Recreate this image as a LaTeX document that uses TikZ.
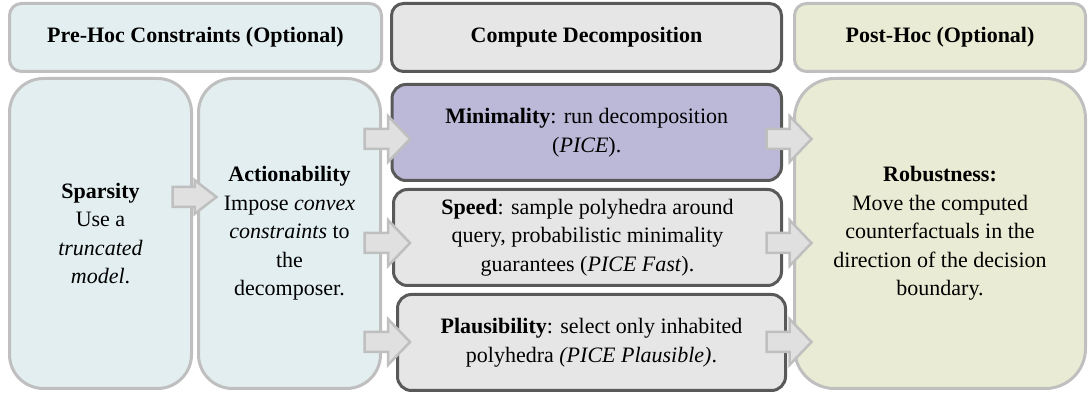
\documentclass[tikz,border=0pt]{standalone}
\usepackage{fontspec}
\setmainfont{Liberation Serif}
\usetikzlibrary{calc}

\definecolor{preFill}{HTML}{E3EEF0}
\definecolor{cmpFill}{HTML}{E6E6E6}
\definecolor{minFill}{HTML}{BCB8D8}
\definecolor{postFill}{HTML}{EAEBD4}
\definecolor{lightEdge}{HTML}{BFBFBF}
\definecolor{darkEdge}{HTML}{595959}
\definecolor{arrFill}{HTML}{E0E0E0}

\tikzset{
  box/.style={draw, line width=3pt, inner sep=0pt, align=center,
    font=\fontsize{22}{28.5}\selectfont},
  softbox/.style={box, draw=lightEdge},
  hardbox/.style={box, draw=darkEdge},
  blockarr/.style={draw=lightEdge, fill=arrFill, line width=2.5pt, line join=miter},
}

% block arrow: anchor, start offset, tip offset, y (px from top), head half height
\newcommand\blockarrow[5]{%
  \path[blockarr] let \p1=(#1) in
    (\x1+#2pt,-#4pt+10pt) -- (\x1+#3pt-22pt,-#4pt+10pt) --
    (\x1+#3pt-22pt,-#4pt+#5pt) -- (\x1+#3pt,-#4pt) --
    (\x1+#3pt-22pt,-#4pt-#5pt) -- (\x1+#3pt-22pt,-#4pt-10pt) --
    (\x1+#2pt,-#4pt-10pt) -- cycle;}

\begin{document}
\begin{tikzpicture}[x=1pt,y=-1pt]
  \useasboundingbox (0,0) rectangle (1088,395);

  % column headers
  \node[softbox, fill=preFill, rounded corners=12pt, minimum width=372pt, minimum height=68pt]
    (pre) at (195.5,37.5) {\textbf{Pre-Hoc Constraints (Optional)}};
  \node[hardbox, fill=cmpFill, rounded corners=12pt, minimum width=390pt, minimum height=68pt]
    (comp) at (586.5,37.5) {\textbf{Compute Decomposition}};
  \node[softbox, fill=postFill, rounded corners=12pt, minimum width=291pt, minimum height=68pt]
    (post) at (940,37.5) {\textbf{Post-Hoc (Optional)}};

  % pre-hoc steps
  \node[softbox, fill=preFill, rounded corners=34pt, minimum width=182pt, minimum height=310pt]
    (spar) at (100.5,233.5) {\textbf{Sparsity}\\Use a\\\textit{truncated}\\\textit{model}.};
  \node[softbox, fill=preFill, rounded corners=34pt, minimum width=182pt, minimum height=310pt]
    (act) at (289.5,233.5) {\textbf{Actionability}\\Impose \textit{convex}\\\textit{constraints} to\\the\\decomposer.};

  % decomposition variants
  \node[hardbox, fill=minFill, rounded corners=14pt, minimum width=389.5pt, minimum height=96pt]
    (mini) at (586.75,132.5) {\textbf{Minimality}: run decomposition\\(\textit{PICE}).};
  \node[hardbox, fill=cmpFill, rounded corners=14pt, minimum width=388pt, minimum height=96pt]
    (speed) at (587.5,237.5) {\textbf{Speed}: sample polyhedra around\\query, probabilistic minimality\\guarantees (\textit{PICE Fast}).};
  \node[hardbox, fill=cmpFill, rounded corners=14pt, minimum width=388pt, minimum height=96pt]
    (plaus) at (591.5,342.5) {\textbf{Plausibility}: select only inhabited\\polyhedra \textit{(PICE Plausible)}.};

  % post-hoc step
  \node[softbox, fill=postFill, rounded corners=40pt, minimum width=291pt, minimum height=310pt]
    (rob) at (940,233.5) {\textbf{Robustness:}\\Move the computed\\counterfactuals in the\\direction of the decision\\boundary.};

  % block arrows
  \blockarrow{spar.east}{-20.5}{23.5}{197}{17}
  \blockarrow{act.east}{-17.5}{28}{139}{23}
  \blockarrow{act.east}{-17.5}{28}{243}{23}
  \blockarrow{act.east}{-17.5}{28}{342}{23}
  \blockarrow{rob.west}{-26.5}{18.5}{139}{23}
  \blockarrow{rob.west}{-26.5}{18.5}{243}{23}
  \blockarrow{rob.west}{-26.5}{18.5}{342}{23}
\end{tikzpicture}
\end{document}
